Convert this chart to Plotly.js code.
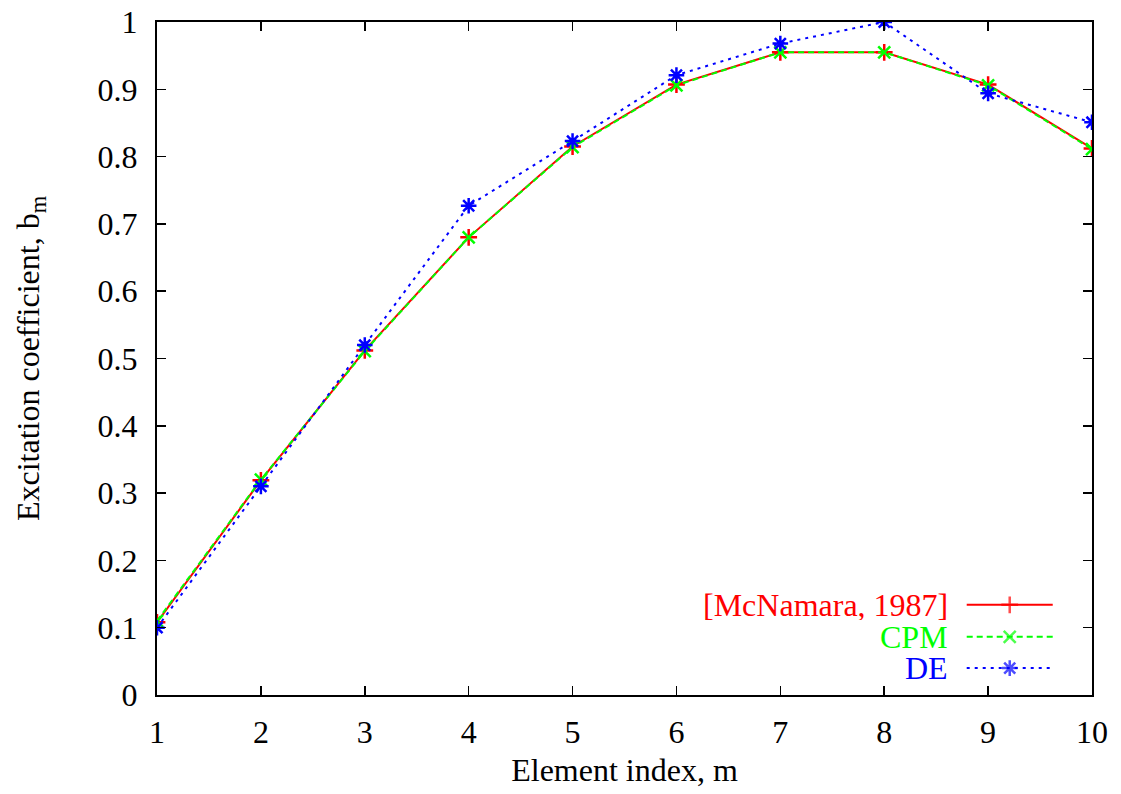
<!DOCTYPE html>
<html>
<head>
<meta charset="utf-8">
<script src="https://cdn.plot.ly/plotly-3.0.1.min.js"></script>
<style>html,body{margin:0;padding:0;background:#fff;}#chart{width:1121px;height:794px;}</style>
</head>
<body>
<div id="chart"></div>
<script>
// Data
const elementIndex = [1, 2, 3, 4, 5, 6, 7, 8, 9, 10];
const mcnamara = [0.108, 0.319, 0.512, 0.680, 0.815, 0.907, 0.955, 0.955, 0.907, 0.812];
const cpm      = [0.110, 0.320, 0.511, 0.680, 0.814, 0.906, 0.955, 0.955, 0.906, 0.811];
const de       = [0.100, 0.310, 0.520, 0.727, 0.823, 0.921, 0.968, 1.000, 0.894, 0.851];
const seriesNames = ['[McNamara, 1987]', 'CPM', 'DE'];
const seriesColors = ['#ff0000', '#00ff00', '#0000ff'];
const yTicks = [0, 0.1, 0.2, 0.3, 0.4, 0.5, 0.6, 0.7, 0.8, 0.9, 1];
const yTickText = ['0', '0.1', '0.2', '0.3', '0.4', '0.5', '0.6', '0.7', '0.8', '0.9', '1'];

const FONT = 'Liberation Serif, Times New Roman, serif';
const FS = 32;
const dashes = ['solid', '6px,4px', '3px,5px'];
const symbols = ['cross-thin-open', 'x-thin-open', 'asterisk-open'];
const sizes = [12, 12, 13];
const values = [mcnamara, cpm, de];

const traces = values.map((v, i) => ({
  x: elementIndex, y: v, type: 'scatter', mode: 'lines+markers',
  name: seriesNames[i], showlegend: false,
  line: {color: seriesColors[i], width: 2, dash: dashes[i]},
  marker: {symbol: symbols[i], size: sizes[i], color: seriesColors[i], line: {color: seriesColors[i], width: 2.5}}
}));

// manual legend (text on the left, sample on the right), drawn on a hidden overlay axis
const legX = [0.866, 0.912, 0.958];
const legY = [0.134, 0.0865, 0.040];
values.forEach((v, i) => {
  traces.push({
    x: legX, y: [legY[i], legY[i], legY[i]], xaxis: 'x2', yaxis: 'y2',
    type: 'scatter', mode: 'lines+markers', showlegend: false, hoverinfo: 'skip',
    line: {color: seriesColors[i], width: 2, dash: dashes[i]},
    marker: {symbol: symbols[i], size: [0, sizes[i], 0], color: seriesColors[i], line: {color: seriesColors[i], width: 2.5}}
  });
});
const annotations = seriesNames.map((n, i) => ({
  xref: 'x2', yref: 'y2', x: 0.847, y: legY[i], xanchor: 'right', yanchor: 'middle',
  height: 30, borderpad: 0,
  text: n, showarrow: false, font: {family: FONT, size: FS, color: seriesColors[i]}
}));

const layout = {
  width: 1121, height: 794,
  margin: {l: 157, r: 29, t: 22, b: 99},
  paper_bgcolor: '#fff', plot_bgcolor: '#fff',
  font: {family: FONT, size: FS, color: '#000'},
  showlegend: false,
  xaxis: {
    range: [1, 10], tickvals: elementIndex, ticktext: elementIndex.map(String),
    ticks: 'inside', ticklen: 9, tickwidth: 1.5, tickcolor: '#000',
    showline: true, linecolor: '#000', linewidth: 2, mirror: 'ticks',
    showgrid: false, zeroline: false, ticklabelstandoff: 8,
    tickfont: {family: FONT, size: FS},
    title: {text: 'Element index, m', font: {family: FONT, size: FS}, standoff: 9}
  },
  yaxis: {
    range: [0, 1], tickvals: yTicks, ticktext: yTickText,
    ticks: 'inside', ticklen: 9, tickwidth: 1.5, tickcolor: '#000',
    showline: true, linecolor: '#000', linewidth: 2, mirror: 'ticks',
    showgrid: false, zeroline: false, ticklabelstandoff: 11,
    tickfont: {family: FONT, size: FS},
    title: {text: 'Excitation coefficient, b<sub>m</sub>', font: {family: FONT, size: FS}, standoff: 48}
  },
  xaxis2: {overlaying: 'x', range: [0, 1], visible: false, anchor: 'y2'},
  yaxis2: {overlaying: 'y', range: [0, 1], visible: false, anchor: 'x2'},
  annotations: annotations
};

Plotly.newPlot('chart', traces, layout, {displayModeBar: false, staticPlot: true});
</script>
</body>
</html>
